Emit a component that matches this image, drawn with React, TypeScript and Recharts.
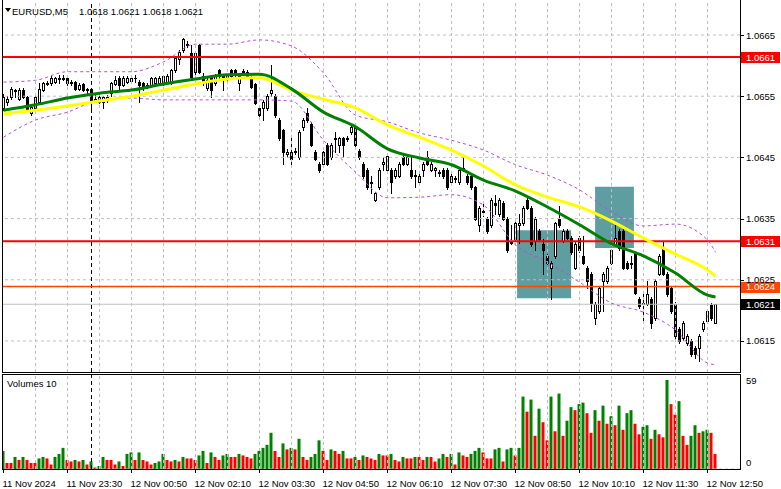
import React from "react";
import { ComposedChart, Bar, Line, XAxis, YAxis, ReferenceLine, ReferenceArea, Cell } from "recharts";

// EURUSD M5, one candle per 5 minutes, first bar 11 Nov 22:10
const opens = [
  1.0653, 1.0654, 1.06549, 1.0656, 1.06546, 1.0656, 1.06549, 1.06522, 1.0653, 1.06541,
  1.0656, 1.06571, 1.06571, 1.06574, 1.0658, 1.06579, 1.0658, 1.06571, 1.06573, 1.06562,
  1.0657, 1.0656, 1.06561, 1.06542, 1.06541, 1.06541, 1.06543, 1.06555, 1.0657, 1.0658,
  1.06569, 1.06574, 1.06575, 1.0658, 1.06574, 1.06571, 1.06566, 1.06568, 1.06571, 1.06572,
  1.06571, 1.06573, 1.06572, 1.06593, 1.0661, 1.06625, 1.06635, 1.0662, 1.0659, 1.06633,
  1.06583, 1.06563, 1.06583, 1.06571, 1.06592, 1.06583, 1.0658, 1.06592, 1.06592, 1.06571,
  1.06589, 1.06589, 1.06581, 1.0657, 1.0653, 1.0653, 1.0653, 1.06555, 1.0655, 1.06511,
  1.06494, 1.06455, 1.06458, 1.0646, 1.0645, 1.06499, 1.06522, 1.06505, 1.06458, 1.0644,
  1.0644, 1.0647, 1.0645, 1.0648, 1.0647, 1.06481, 1.0648, 1.06491, 1.06499, 1.06461,
  1.0644, 1.06429, 1.0641, 1.0638, 1.06401, 1.0644, 1.0643, 1.0643, 1.0642, 1.0642,
  1.0645, 1.0644, 1.0643, 1.06422, 1.06409, 1.0643, 1.0645, 1.0643, 1.0643, 1.06424,
  1.0643, 1.0643, 1.06409, 1.06415, 1.06409, 1.0643, 1.0642, 1.0642, 1.06401, 1.06339,
  1.06363, 1.0635, 1.06339, 1.06375, 1.06358, 1.06375, 1.0635, 1.0631, 1.06317, 1.0634,
  1.06342, 1.0638, 1.06368, 1.06314, 1.0633, 1.06309, 1.06289, 1.0627, 1.06289, 1.0635,
  1.06314, 1.0633, 1.06319, 1.0627, 1.06319, 1.06289, 1.0627, 1.0626, 1.06188, 1.06199,
  1.06248, 1.06248, 1.06278, 1.06309, 1.0633, 1.0633, 1.06278, 1.06275, 1.06293, 1.06219,
  1.0621, 1.06211, 1.06219, 1.06188, 1.0626, 1.06302, 1.0626, 1.06237, 1.06211, 1.0617,
  1.06155, 1.06147, 1.0615, 1.06139, 1.06139, 1.0617, 1.06183, 1.06209, 1.0618,
];
const highs = [
  1.06553, 1.0655, 1.06565, 1.06562, 1.06563, 1.06563, 1.06551, 1.06535, 1.06552, 1.06571,
  1.06574, 1.06575, 1.06583, 1.06582, 1.06584, 1.06584, 1.06582, 1.06576, 1.06575, 1.06572,
  1.06572, 1.06564, 1.06563, 1.06555, 1.06551, 1.0655, 1.06552, 1.06574, 1.06583, 1.06583,
  1.06583, 1.06583, 1.06582, 1.06585, 1.06577, 1.06573, 1.06571, 1.06582, 1.06582, 1.06583,
  1.06585, 1.06586, 1.06594, 1.06615, 1.06626, 1.06645, 1.0664, 1.06634, 1.06623, 1.06635,
  1.06588, 1.0658, 1.06585, 1.06586, 1.06594, 1.06585, 1.06586, 1.06594, 1.06594, 1.06585,
  1.06595, 1.06592, 1.06583, 1.06572, 1.06533, 1.06543, 1.06553, 1.06601, 1.06553, 1.06515,
  1.06497, 1.06463, 1.06481, 1.06465, 1.06494, 1.06514, 1.0653, 1.06508, 1.06462, 1.06443,
  1.06461, 1.06473, 1.06473, 1.06491, 1.06484, 1.06484, 1.06485, 1.06502, 1.06502, 1.06464,
  1.06443, 1.06432, 1.0642, 1.06394, 1.06433, 1.0645, 1.06456, 1.06433, 1.06433, 1.06443,
  1.06453, 1.06453, 1.0645, 1.0643, 1.06423, 1.06443, 1.06461, 1.06443, 1.06435, 1.06429,
  1.06433, 1.06433, 1.06423, 1.0642, 1.06433, 1.0645, 1.06423, 1.06423, 1.06404, 1.06371,
  1.06374, 1.06353, 1.06383, 1.06388, 1.06383, 1.06378, 1.06353, 1.06339, 1.06345, 1.06358,
  1.06371, 1.06383, 1.06371, 1.06353, 1.06333, 1.06317, 1.06292, 1.06281, 1.06345, 1.06371,
  1.06333, 1.06333, 1.06322, 1.06312, 1.06322, 1.06322, 1.06273, 1.06263, 1.06214, 1.0624,
  1.06263, 1.06273, 1.06301, 1.06339, 1.06333, 1.06333, 1.06281, 1.06289, 1.06296, 1.06222,
  1.06232, 1.06248, 1.06222, 1.06251, 1.06292, 1.06311, 1.06263, 1.0624, 1.06214, 1.06173,
  1.06183, 1.06161, 1.06153, 1.06142, 1.06161, 1.06183, 1.06202, 1.06212, 1.0621,
];
const lows = [
  1.06528, 1.06536, 1.06546, 1.06549, 1.06543, 1.06547, 1.06525, 1.06519, 1.06528, 1.06539,
  1.06558, 1.06568, 1.06569, 1.06572, 1.06571, 1.06577, 1.06569, 1.06569, 1.0656, 1.0656,
  1.06558, 1.06554, 1.0653, 1.0654, 1.06539, 1.0653, 1.0654, 1.0655, 1.06568, 1.06561,
  1.06567, 1.06572, 1.06573, 1.06574, 1.06541, 1.0656, 1.06563, 1.06566, 1.06569, 1.0657,
  1.06569, 1.06571, 1.0657, 1.0659, 1.06602, 1.06622, 1.0663, 1.0658, 1.06587, 1.06588,
  1.06569, 1.0656, 1.06549, 1.06568, 1.0658, 1.0656, 1.06577, 1.0658, 1.06581, 1.0656,
  1.06586, 1.06579, 1.06563, 1.06537, 1.06516, 1.06511, 1.06528, 1.0655, 1.06516, 1.06478,
  1.0644, 1.0645, 1.0644, 1.06455, 1.06448, 1.06495, 1.06508, 1.06468, 1.06445, 1.06426,
  1.06438, 1.06437, 1.06447, 1.06458, 1.06458, 1.0645, 1.06477, 1.06488, 1.06467, 1.06447,
  1.06417, 1.06398, 1.06391, 1.06378, 1.06398, 1.06429, 1.06428, 1.06391, 1.06417, 1.06418,
  1.06437, 1.06438, 1.06417, 1.06401, 1.06406, 1.0642, 1.06437, 1.06428, 1.0642, 1.0642,
  1.06417, 1.06398, 1.06406, 1.06409, 1.06407, 1.06427, 1.06406, 1.06398, 1.06347, 1.0633,
  1.06355, 1.06327, 1.06336, 1.06358, 1.06355, 1.06347, 1.06295, 1.06309, 1.06314, 1.0631,
  1.06339, 1.06365, 1.06306, 1.06298, 1.06314, 1.0626, 1.06275, 1.06219, 1.06286, 1.06336,
  1.06311, 1.06316, 1.06292, 1.06267, 1.06295, 1.06275, 1.06237, 1.06199, 1.06178, 1.06196,
  1.06199, 1.06245, 1.06275, 1.06306, 1.06299, 1.06267, 1.06267, 1.0627, 1.06226, 1.06204,
  1.0618, 1.06208, 1.06171, 1.06185, 1.06257, 1.06257, 1.06224, 1.06196, 1.06155, 1.06147,
  1.06152, 1.06144, 1.06126, 1.06122, 1.06117, 1.06167, 1.0618, 1.06185, 1.0618,
];
const closes = [
  1.06549, 1.06546, 1.06561, 1.06558, 1.0656, 1.06549, 1.06527, 1.06533, 1.06549, 1.06561,
  1.06571, 1.06572, 1.0658, 1.0658, 1.06578, 1.0658, 1.06571, 1.06573, 1.06561, 1.06569,
  1.0656, 1.06561, 1.06541, 1.06545, 1.06549, 1.06549, 1.06549, 1.06571, 1.06576, 1.06568,
  1.0658, 1.0658, 1.0658, 1.06579, 1.06568, 1.06563, 1.06568, 1.0658, 1.0658, 1.0658,
  1.06583, 1.06583, 1.06592, 1.06612, 1.06623, 1.06643, 1.06633, 1.06582, 1.0662, 1.0659,
  1.06571, 1.06577, 1.0656, 1.06583, 1.06583, 1.06582, 1.06583, 1.06583, 1.06584, 1.06583,
  1.06591, 1.06581, 1.06565, 1.06539, 1.06519, 1.0654, 1.0655, 1.0656, 1.06519, 1.06481,
  1.06458, 1.06458, 1.06448, 1.06461, 1.06491, 1.06511, 1.06511, 1.0647, 1.06448, 1.06429,
  1.06458, 1.0644, 1.0647, 1.06482, 1.06481, 1.0647, 1.06482, 1.06499, 1.0647, 1.0645,
  1.0642, 1.06401, 1.06408, 1.06391, 1.0643, 1.06442, 1.06453, 1.06409, 1.0643, 1.0644,
  1.0644, 1.0645, 1.0642, 1.0642, 1.0642, 1.0644, 1.0644, 1.0644, 1.06432, 1.06426,
  1.0642, 1.06401, 1.0642, 1.06417, 1.0643, 1.06432, 1.06409, 1.06401, 1.0635, 1.06368,
  1.0636, 1.0633, 1.0638, 1.06373, 1.0638, 1.0635, 1.06298, 1.06312, 1.06342, 1.06343,
  1.06368, 1.06368, 1.06309, 1.0635, 1.06317, 1.06298, 1.06278, 1.06278, 1.06342, 1.06339,
  1.0633, 1.06319, 1.06295, 1.06309, 1.06298, 1.06278, 1.06248, 1.06212, 1.06211, 1.06237,
  1.0626, 1.0627, 1.06298, 1.06319, 1.06302, 1.0627, 1.0627, 1.06277, 1.06229, 1.06207,
  1.06212, 1.06227, 1.0618, 1.06248, 1.06289, 1.0626, 1.06227, 1.06199, 1.06158, 1.0615,
  1.0618, 1.06158, 1.06129, 1.06129, 1.06158, 1.0618, 1.06199, 1.06188, 1.0621,
];
const volumes = [
  12, 4, 4, 8, 6, 8, 6, 4, 4, 7,
  8, 7, 3, 8, 10, 14, 6, 5, 6, 5,
  6, 3, 5, 1, 2, 8, 6, 6, 3, 5,
  2, 10, 11, 6, 11, 6, 5, 3, 4, 5,
  10, 6, 5, 6, 5, 8, 7, 7, 6, 9,
  12, 4, 11, 8, 6, 9, 10, 8, 8, 10,
  9, 8, 7, 10, 12, 14, 16, 24, 12, 8,
  17, 13, 14, 13, 20, 8, 6, 8, 10, 19,
  12, 6, 13, 12, 10, 12, 7, 7, 8, 6,
  9, 8, 7, 6, 10, 9, 9, 10, 6, 5,
  8, 7, 7, 8, 8, 6, 8, 8, 5, 7,
  10, 8, 10, 3, 11, 9, 8, 10, 12, 14,
  11, 7, 7, 13, 14, 5, 13, 14, 9, 14,
  48, 38, 46, 22, 40, 31, 19, 48, 25, 50,
  22, 32, 41, 39, 43, 44, 37, 24, 39, 32,
  42, 30, 35, 29, 42, 26, 37, 39, 30, 23,
  28, 29, 20, 26, 23, 21, 59, 43, 36, 45,
  22, 16, 22, 29, 24, 25, 26, 24, 10,
];

// moving averages and bands, read every 8 bars
const maBars = [0, 8, 16, 24, 32, 40, 48, 56, 64, 72, 80, 88, 96, 104, 112, 120, 128, 136, 144, 152, 160, 168, 176, 178];
const yellowMa = [1.06521, 1.06527, 1.06534, 1.06542, 1.0655, 1.0656, 1.0657, 1.06578, 1.0658, 1.0656, 1.06545, 1.06531, 1.06503, 1.06483, 1.06462, 1.06436, 1.06405, 1.06385, 1.06369, 1.06346, 1.06318, 1.06292, 1.06266, 1.06256];
const greenMa = [1.06527, 1.06536, 1.06547, 1.06555, 1.0656, 1.0657, 1.06578, 1.06585, 1.06586, 1.06562, 1.06524, 1.065, 1.06464, 1.06449, 1.06438, 1.06413, 1.06395, 1.06369, 1.0634, 1.06309, 1.06289, 1.06261, 1.06225, 1.06222];
const upperBand = [1.06573, 1.06576, 1.0659, 1.0659, 1.0659, 1.06606, 1.06635, 1.06635, 1.06642, 1.06632, 1.06588, 1.06519, 1.06508, 1.0649, 1.06478, 1.06462, 1.06438, 1.06421, 1.06397, 1.06361, 1.06338, 1.06341, 1.06315, 1.06295];
const lowerBand = [1.06483, 1.06511, 1.06524, 1.06544, 1.06547, 1.06544, 1.06544, 1.06544, 1.06544, 1.06542, 1.06478, 1.06426, 1.06384, 1.06385, 1.06389, 1.06372, 1.06307, 1.06279, 1.06246, 1.06212, 1.06197, 1.06168, 1.06114, 1.06111];

const priceTicks = [1.0665, 1.0655, 1.0645, 1.0635, 1.0625, 1.0615];
const volumeTicks = [0, 59];
const timeTicks = [0, 16, 32, 48, 64, 80, 96, 112, 128, 144, 160, 176];
const timeLabels = [
  "11 Nov 2024", "11 Nov 23:30", "12 Nov 00:50", "12 Nov 02:10", "12 Nov 03:30", "12 Nov 04:50",
  "12 Nov 06:10", "12 Nov 07:30", "12 Nov 08:50", "12 Nov 10:10", "12 Nov 11:30", "12 Nov 12:50",
];
const gridBars = [8, 16, 24, 32, 40, 48, 56, 64, 72, 80, 88, 96, 104, 112, 120, 128, 136, 144, 152, 160, 168, 176];
const dayBreak = 22;
const levels = [1.06614, 1.06313];
const orangeLevel = 1.06239;
const bidLevel = 1.0621;
const zoneStart = [128.4, 147.9];
const zoneEnd = [141.9, 157.6];
const zoneTop = [1.06331, 1.06402];
const zoneBottom = [1.0622, 1.06302];

const rows = opens.map((o, i) => {
  const k = maBars.indexOf(i);
  return {
    i,
    open: o,
    high: highs[i],
    low: lows[i],
    close: closes[i],
    range: [lows[i], highs[i]],
    vol: volumes[i],
    up: i === 0 || volumes[i] > volumes[i - 1],
    yellow: k >= 0 ? yellowMa[k] : null,
    green: k >= 0 ? greenMa[k] : null,
    upper: k >= 0 ? upperBand[k] : null,
    lower: k >= 0 ? lowerBand[k] : null,
  };
});

const FONT = "'Liberation Sans', Arial, sans-serif";
const FS = 9.5;
const AXIS_X = 740;
const X_DOMAIN: [number, number] = [-0.125, 184.125];
const GRID = "#c0c0c0";
const BAND = "#b84ae0";

function Candle(props: any) {
  const { x, y, width, height, payload } = props;
  if (x == null || y == null || !payload) return null;
  const { open, close, high, low } = payload;
  const top = Math.min(y, y + height);
  const h = Math.abs(height);
  const cx = Math.floor(x + width / 2) + 0.5;
  const span = high - low;
  const py = (v: number) => (span > 0 ? top + ((high - v) / span) * h : top);
  const yHi = Math.round(py(high));
  const yLo = Math.round(py(low));
  const bTop = Math.round(py(Math.max(open, close)));
  const bBot = Math.round(py(Math.min(open, close)));
  const bull = close > open;
  return (
    <g>
      <line x1={cx} x2={cx} y1={yHi} y2={yLo + 1} stroke="#000" strokeWidth={1} />
      {bull ? (
        <rect x={cx - 1} y={bTop + 0.5} width={2} height={Math.max(bBot - bTop, 1)} fill="#fff" stroke="#000" strokeWidth={1} />
      ) : (
        <rect x={cx - 1.5} y={bTop} width={3} height={Math.max(bBot - bTop + 1, 1)} fill="#000" />
      )}
    </g>
  );
}

function PriceTick(props: any) {
  const { y, payload } = props;
  const yy = Math.round(y) + 0.5;
  return (
    <g>
      <line x1={AXIS_X} x2={AXIS_X + 4} y1={yy} y2={yy} stroke="#000" />
      <text x={AXIS_X + 6} y={y + 3.5} fontSize={FS} fontFamily={FONT} fill="#000">
        {Number(payload.value).toFixed(4)}
      </text>
    </g>
  );
}

function VolumeTick(props: any) {
  const { y, payload } = props;
  const dy = payload.value === 0 ? -3.5 : 4.5;
  return (
    <text x={AXIS_X + 6} y={y + dy} fontSize={FS} fontFamily={FONT} fill="#000">
      {payload.value}
    </text>
  );
}

function TimeTick(props: any) {
  const { x, payload, index } = props;
  const px = Math.floor(x) + 0.5;
  return (
    <g>
      <line x1={px} x2={px} y1={95} y2={99} stroke="#000" />
      <text x={x - 1} y={113} fontSize={FS} fontFamily={FONT} fill="#000">
        {timeLabels[index] ?? String(payload.value)}
      </text>
    </g>
  );
}

function tag(color: string, price: number) {
  return (p: any) => {
    const vb = p.viewBox || {};
    const yy = vb.y ?? 0;
    return (
      <g>
        <rect x={AXIS_X + 1} y={Math.round(yy) - 5} width={39} height={11} fill={color} />
        <text x={AXIS_X + 6} y={yy + 3.5} fontSize={FS} fontFamily={FONT} fill="#fff">
          {price.toFixed(4)}
        </text>
      </g>
    );
  };
}

export default function App() {
  const last = opens.length - 1;
  const title = [opens[last], highs[last], lows[last], closes[last]].map((v) => v.toFixed(4)).join(" ");
  return (
    <div style={{ position: "fixed", left: 0, top: 0, width: 781, height: 489, background: "#fff", overflow: "hidden" }}>
      <div style={{ position: "absolute", left: 0, top: 0 }}>
        <ComposedChart width={781} height={374} data={rows} margin={{ top: 3, right: 0, bottom: 2, left: 3 }}>
          <XAxis dataKey="i" type="number" domain={X_DOMAIN} allowDataOverflow hide />
          <YAxis
            orientation="right"
            width={41}
            domain={[1.060993, 1.067023]}
            allowDataOverflow
            ticks={priceTicks}
            tick={<PriceTick />}
            tickLine={false}
            axisLine={false}
            interval={0}
          />
          {gridBars.map((b) => (
            <ReferenceLine key={"gx" + b} x={b} stroke={GRID} strokeDasharray="3 3" />
          ))}
          {priceTicks.map((t) => (
            <ReferenceLine key={"gy" + t} y={t} stroke={GRID} strokeDasharray="3 3" />
          ))}
          {zoneStart.map((s, k) => (
            <ReferenceArea key={"z" + k} x1={s} x2={zoneEnd[k]} y1={zoneBottom[k]} y2={zoneTop[k]} fill="#5f9ea0" fillOpacity={1} stroke="none" />
          ))}
          <ReferenceLine x={dayBreak} stroke="#000" strokeDasharray="4 3" />
          <ReferenceLine y={bidLevel} stroke="#c0c0c0" strokeWidth={1} label={tag("#000", bidLevel)} />
          <ReferenceLine y={orangeLevel} stroke="#ff4500" strokeWidth={1.5} label={tag("#ff4500", orangeLevel)} />
          {levels.map((l) => (
            <ReferenceLine key={"l" + l} y={l} stroke="#ff0000" strokeWidth={2} label={tag("#ff0000", l)} />
          ))}
          <Bar dataKey="range" barSize={3} shape={<Candle />} isAnimationActive={false} />
          <Line dataKey="upper" type="monotone" stroke={BAND} strokeWidth={1} strokeDasharray="3 3" dot={false} connectNulls isAnimationActive={false} />
          <Line dataKey="lower" type="monotone" stroke={BAND} strokeWidth={1} strokeDasharray="3 3" dot={false} connectNulls isAnimationActive={false} />
          <Line dataKey="yellow" type="monotone" stroke="#ffff00" strokeWidth={3} dot={false} connectNulls isAnimationActive={false} />
          <Line dataKey="green" type="monotone" stroke="#008000" strokeWidth={3} dot={false} connectNulls isAnimationActive={false} />
        </ComposedChart>
      </div>
      <div style={{ position: "absolute", left: 0, top: 374 }}>
        <ComposedChart width={781} height={115} data={rows} margin={{ top: 1, right: 0, bottom: 0, left: 3 }}>
          <XAxis
            dataKey="i"
            type="number"
            domain={X_DOMAIN}
            allowDataOverflow
            ticks={timeTicks}
            interval={0}
            height={20}
            tick={<TimeTick />}
            tickLine={false}
            axisLine={false}
          />
          <YAxis
            orientation="right"
            width={41}
            domain={[0, 62.3]}
            allowDataOverflow
            ticks={volumeTicks}
            tick={<VolumeTick />}
            tickLine={false}
            axisLine={false}
            interval={0}
          />
          {gridBars.map((b) => (
            <ReferenceLine key={"vx" + b} x={b} stroke={GRID} strokeDasharray="3 3" />
          ))}
          <ReferenceLine y={0} stroke={GRID} strokeDasharray="3 3" />
          <ReferenceLine x={dayBreak} stroke="#000" strokeDasharray="4 3" />
          <Bar dataKey="vol" barSize={3} isAnimationActive={false}>
            {rows.map((r) => (
              <Cell key={r.i} fill={r.up ? "#008000" : "#ff0000"} />
            ))}
          </Bar>
        </ComposedChart>
      </div>
      <svg width={781} height={489} style={{ position: "absolute", left: 0, top: 0, pointerEvents: "none" }}>
        <line x1={2.5} x2={2.5} y1={0} y2={373} stroke="#000" />
        <line x1={AXIS_X + 0.5} x2={AXIS_X + 0.5} y1={0} y2={373} stroke="#000" />
        <line x1={2} x2={741} y1={372.5} y2={372.5} stroke="#000" />
        <line x1={2} x2={741} y1={374.5} y2={374.5} stroke="#000" />
        <line x1={2.5} x2={2.5} y1={374} y2={470} stroke="#000" />
        <line x1={AXIS_X + 0.5} x2={AXIS_X + 0.5} y1={374} y2={470} stroke="#000" />
        <line x1={2} x2={741} y1={469.5} y2={469.5} stroke="#000" />
        <polygon points="5,8 11,8 8,12" fill="#000" />
        <text x={12} y={14.5} fontSize={FS} fontFamily={FONT} fill="#000">EURUSD,M5</text>
        <text x={79} y={14.5} fontSize={FS} fontFamily={FONT} fill="#000">{title}</text>
        <text x={7} y={387} fontSize={FS} fontFamily={FONT} fill="#000">Volumes 10</text>
      </svg>
    </div>
  );
}
